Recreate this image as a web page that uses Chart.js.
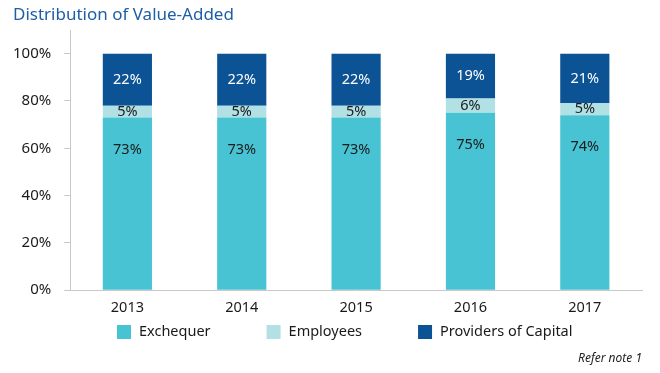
<!DOCTYPE html>
<html>
<head>
<meta charset="utf-8">
<script src="https://cdn.jsdelivr.net/npm/chart.js@4"></script>
<style>
  html, body { margin: 0; padding: 0; background: #fff; }
  #wrap { width: 660px; height: 373px; }
</style>
</head>
<body>
<div id="wrap"><canvas id="valueChart"></canvas></div>
<script>
const years = ['2013', '2014', '2015', '2016', '2017'];
const exchequer = [73, 73, 73, 75, 74];
const employees = [5, 5, 5, 6, 5];
const providers = [22, 22, 22, 19, 21];
const yTicks = [0, 20, 40, 60, 80, 100];

const FONT = "'Noto Sans', sans-serif";

// write the % value on each segment
const segLabels = {
  id: 'segLabels',
  afterDatasetsDraw(chart) {
    const ctx = chart.ctx;
    ctx.save();
    ctx.font = '14.5px ' + FONT;
    ctx.textAlign = 'center';
    ctx.textBaseline = 'middle';
    chart.data.datasets.forEach((ds, i) => {
      chart.getDatasetMeta(i).data.forEach((bar, j) => {
        let y = (bar.y + bar.base) / 2;
        if (i === 0) y = bar.y + 32;
        ctx.fillStyle = i === 2 ? '#ffffff' : '#1a1a1a';
        ctx.fillText(ds.data[j] + '%', bar.x, y);
      });
    });
    ctx.restore();
  }
};

// heading top-left and legend row under the year labels
const extras = {
  id: 'extras',
  afterDraw(chart) {
    const ctx = chart.ctx;
    ctx.save();
    ctx.textBaseline = 'middle';
    ctx.fillStyle = '#1d5ea6';
    ctx.font = '17px ' + FONT;
    ctx.fillText('Distribution of Value-Added', 13, 15);

    ctx.font = '14.5px ' + FONT;
    let x = 117;
    const y = 332;
    chart.data.datasets.forEach(ds => {
      ctx.fillStyle = ds.backgroundColor;
      ctx.fillRect(x, y - 7, 14, 14);
      ctx.fillStyle = '#1a1a1a';
      ctx.fillText(ds.label, x + 22, y);
      x += 22 + ctx.measureText(ds.label).width + 56;
    });
    ctx.restore();
  }
};

const CHART = document.getElementById('valueChart');

let barChart = new Chart(CHART, {
  type: 'bar',
  data: {
    labels: years,
    datasets: [
      { label: 'Exchequer', data: exchequer, backgroundColor: '#48c3d3' },
      { label: 'Employees', data: employees, backgroundColor: '#b1e0e5' },
      { label: 'Providers of Capital', data: providers, backgroundColor: '#0b5395' }
    ]
  },
  options: {
    responsive: true,
    maintainAspectRatio: false,
    animation: false,
    datasets: { bar: { categoryPercentage: 1, barPercentage: 0.43, borderWidth: 0 } },
    layout: { padding: { left: 0, right: 18, top: 30, bottom: 7 } },
    plugins: {
      title: { display: false },
      legend: { display: false },
      subtitle: {
        display: true,
        position: 'bottom',
        align: 'end',
        text: 'Refer note 1',
        color: '#222',
        font: { family: FONT, size: 12, style: 'italic' },
        padding: { top: 26, bottom: 0 }
      },
      tooltip: { enabled: false }
    },
    scales: {
      x: {
        stacked: true,
        grid: { display: false, drawTicks: false },
        border: { color: '#c8c8c8', width: 1 },
        ticks: { color: '#1a1a1a', font: { family: FONT, size: 14.5 }, padding: 9 }
      },
      y: {
        stacked: true,
        min: 0,
        max: 110,
        afterBuildTicks(axis) {
          axis.ticks = yTicks.map(v => ({ value: v }));
        },
        grid: { drawOnChartArea: false, tickLength: 6, color: '#c8c8c8' },
        border: { color: '#c8c8c8', width: 1 },
        ticks: {
          color: '#1a1a1a',
          padding: 13,
          font: { family: FONT, size: 15 },
          callback: v => v + '%'
        }
      }
    }
  },
  plugins: [segLabels, extras]
});
</script>
</body>
</html>
